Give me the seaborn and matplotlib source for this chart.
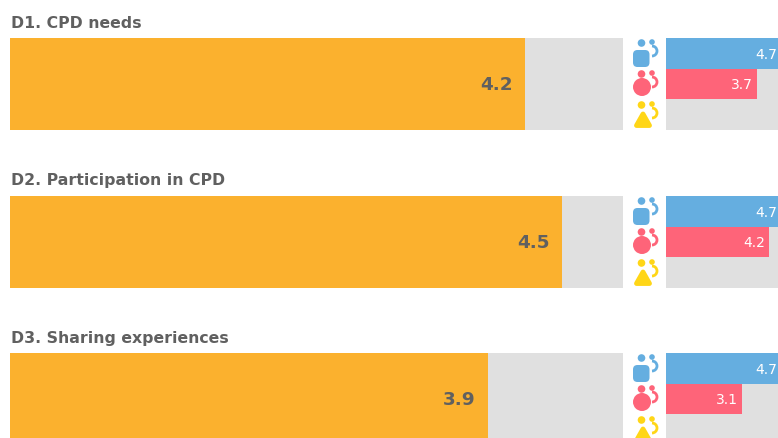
import matplotlib
matplotlib.use('Agg')
import matplotlib.pyplot as plt
import pandas as pd
import seaborn as sns
from matplotlib.patches import Arc, Circle, FancyBboxPatch, Polygon

# Chart data.
area_titles = ['D1. CPD needs', 'D2. Participation in CPD', 'D3. Sharing experiences']
overall_scores = [4.2, 4.5, 3.9]
groups = ['School leaders', 'Teachers', 'Students']
leader_scores = [4.7, 4.7, 4.7]
teacher_scores = [3.7, 4.2, 3.1]
student_scores = [None, None, None]

# Colours.
ORANGE = '#fbb12e'
GREY_BG = '#e0e0e0'
TEXT = '#606060'
BLUE = '#65aee0'
PINK = '#fe6479'
YELLOW = '#ffd617'

W, H = 778, 438
FONT = 'DejaVu Sans'
row_tops = [38, 196, 353]
row_height = 92


def px_axes(fig, left, top, width, height):
    # Axes placed in pixels, y counted from the top of the picture.
    return fig.add_axes([left / W, 1 - (top + height) / H, width / W, height / H])


def style_axes(ax):
    ax.set_xlim(0, 5)
    ax.set_facecolor(GREY_BG)
    ax.set_xticks([])
    ax.set_yticks([])
    ax.set_xlabel('')
    ax.set_ylabel('')
    sns.despine(ax=ax, left=True, bottom=True)


def draw_icon(ax, dy, color, shape):
    # Small person-and-speech pictograms next to the group bars.
    if shape == 'square':
        ax.add_patch(FancyBboxPatch((637, 54 + dy), 8.5, 9, boxstyle='round,pad=4,rounding_size=4.5',
                                    fc=color, ec='none'))
        body_y = 43
    elif shape == 'circle':
        ax.add_patch(Circle((642, 87 + dy), 9, fc=color, ec='none'))
        body_y = 74
    else:
        ax.add_patch(Polygon([(643, 114 + dy), (636.5, 125.5 + dy), (649.5, 125.5 + dy)], closed=True,
                             fc=color, ec=color, lw=3.5, joinstyle='round'))
        body_y = 105
    ax.add_patch(Circle((641.5, body_y + dy), 3.8, fc=color, ec='none'))
    ax.add_patch(Circle((652, body_y - 1 + dy), 2.8, fc=color, ec='none'))
    ax.add_patch(Arc((652, body_y + 8 + dy), 10, 10, theta1=-90, theta2=90, ec=color, lw=2))


def main():
    sns.set_theme(style='white')
    plt.rcParams['font.family'] = [FONT]
    fig = plt.figure(figsize=(W / 100, H / 100), dpi=100, facecolor='white')

    for i, title in enumerate(area_titles):
        top = row_tops[i]

        # Big bar with the overall score.
        ax = px_axes(fig, 10, top, 613, row_height)
        overall_df = pd.DataFrame({'area': [title], 'score': [overall_scores[i]]})
        sns.barplot(data=overall_df, x='score', y='area', color=ORANGE, saturation=1,
                    width=1, orient='h', linewidth=0, ax=ax)
        style_axes(ax)
        ax.annotate(f'{overall_scores[i]:.1f}', (overall_scores[i], 0), xytext=(-9, -1),
                    textcoords='offset points', ha='right', va='center',
                    fontsize=13.2, fontweight='bold', color=TEXT)
        fig.text(11 / W, 1 - (top - 15) / H, title, fontsize=11.3, fontweight='bold',
                 color=TEXT, ha='left', va='center')

        # Group bars, the scale runs past the right edge of the picture.
        sub = px_axes(fig, 666, top, 122.6, row_height)
        group_values = [leader_scores[i], teacher_scores[i], student_scores[i]]
        group_df = pd.DataFrame({'group': groups, 'score': pd.to_numeric(pd.Series(group_values))})
        sns.barplot(data=group_df, x='score', y='group', hue='group', palette=[BLUE, PINK, YELLOW],
                    saturation=1, width=1, orient='h', legend=False, linewidth=0, ax=sub)
        style_axes(sub)
        for j, value in enumerate(group_values):
            if value is not None:
                sub.annotate(f'{value:.1f}', (value, j), xytext=(-3, -1), textcoords='offset points',
                             ha='right', va='center', fontsize=10, color='white')

    # Overlay for the pictograms, in picture pixels.
    overlay = fig.add_axes([0, 0, 1, 1], facecolor='none')
    overlay.set_xlim(0, W)
    overlay.set_ylim(H, 0)
    overlay.axis('off')
    for dy in [0, 158, 315]:
        draw_icon(overlay, dy, BLUE, 'square')
        draw_icon(overlay, dy, PINK, 'circle')
        draw_icon(overlay, dy, YELLOW, 'triangle')

    fig.savefig('out.png', dpi=100)


if __name__ == '__main__':
    main()
